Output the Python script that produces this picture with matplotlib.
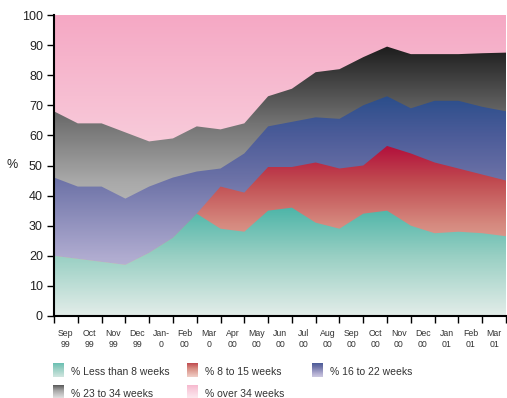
import numpy as np
import matplotlib.pyplot as plt
from matplotlib.colors import LinearSegmentedColormap

plt.rcParams['font.family'] = ['Liberation Sans', 'DejaVu Sans']

# month labels sit between the tick marks
months = ['Sep\n99', 'Oct\n99', 'Nov\n99', 'Dec\n99', 'Jan-\n0', 'Feb\n00', 'Mar\n0',
          'Apr\n00', 'May\n00', 'Jun\n00', 'Jul\n00', 'Aug\n00', 'Sep\n00', 'Oct\n00',
          'Nov\n00', 'Dec\n00', 'Jan\n01', 'Feb\n01', 'Mar\n01']

# share of waits (%) in each band, one value per tick position
lt8 = [20, 19, 18, 17, 21, 26, 34, 29, 28, 35, 36, 31, 29, 34, 35, 30, 27.5, 28, 27.5, 26.5]
w8_15 = [0, 0, 0, 0, 0, 0, 0, 14, 13, 14.5, 13.5, 20, 20, 16, 21.5, 24, 23.5, 21, 19.5, 18.5]
w16_22 = [26, 24, 25, 22, 22, 20, 14, 6, 13, 13.5, 15, 15, 16.5, 20, 16.5, 15, 20.5, 22.5, 22.5, 23]
w23_34 = [22, 21, 21, 22, 15, 13, 15, 13, 10, 10, 11, 15, 16.5, 16, 16.5, 18, 15.5, 15.5, 17.8, 19.5]

bands = np.array([lt8, w8_15, w16_22, w23_34])
cum = np.cumsum(bands, axis=0)
over34 = 100 - cum[-1]
x = np.arange(len(lt8))

names = ['% Less than 8 weeks', '% 8 to 15 weeks', '% 16 to 22 weeks',
         '% 23 to 34 weeks', '% over 34 weeks']

# vertical gradients, keyed by position on the 0-100 axis
cmaps = [
    LinearSegmentedColormap.from_list('teal', [(0, '#e3ede9'), (0.2, '#98cfc3'), (0.36, '#4db5a8'), (1, '#30a090')]),
    LinearSegmentedColormap.from_list('red', [(0, '#f6dcd6'), (0.3, '#d68b80'), (0.45, '#c04a50'), (0.56, '#b3123c'), (1, '#a00030')]),
    LinearSegmentedColormap.from_list('blue', [(0, '#d6d2e6'), (0.2, '#aeaacf'), (0.46, '#6b71a6'), (0.6, '#4c5c99'), (0.73, '#2b4e8b'), (1, '#1a3a7a')]),
    LinearSegmentedColormap.from_list('grey', [(0, '#f0f0f0'), (0.45, '#a8a8a8'), (0.64, '#737373'), (0.9, '#1c1c1c'), (1, '#0a0a0a')]),
    LinearSegmentedColormap.from_list('pink', [(0, '#fdf0f4'), (0.6, '#f8c9d9'), (1, '#f5a8c4')]),
]
swatch_top = [0.3, 0.45, 0.6, 0.72, 0.8]

W, H = 507, 398
fig = plt.figure(figsize=(W / 100, H / 100), dpi=100)
ax = fig.add_axes([54 / W, 1 - 316 / H, 452 / W, 301 / H])

grad = np.linspace(0, 1, 256).reshape(-1, 1)
tops = [cum[0], cum[1], cum[2], cum[3], cum[3] + over34]
# draw back to front: over 34 weeks first, less than 8 weeks last
for i in range(4, -1, -1):
    poly = ax.fill_between(x, 0, tops[i], facecolor='none', edgecolor='none')
    im = ax.imshow(grad, cmap=cmaps[i], origin='lower', aspect='auto',
                   extent=[x[0], x[-1], 0, 100], zorder=1 + (4 - i) * 0.1)
    im.set_clip_path(poly.get_paths()[0], transform=ax.transData)

ax.set_xlim(x[0], x[-1])
ax.set_ylim(0, 100)
ax.set_yticks(range(0, 101, 10))
ax.tick_params(axis='y', labelsize=9, labelcolor='#222222', length=5, width=1,
               direction='out', pad=3)
ax.set_xticks(x)
ax.set_xticklabels([])
ax.tick_params(axis='x', which='major', length=5, width=1, direction='out')
ax.set_xticks(x[:-1] + 0.5, minor=True)
ax.set_xticklabels(months, minor=True, fontsize=6.3, color='#333333', linespacing=1.3)
ax.tick_params(axis='x', which='minor', length=0, pad=9)
for side in ['top', 'right']:
    ax.spines[side].set_visible(False)
for side in ['left', 'bottom']:
    ax.spines[side].set_linewidth(1.5)
    ax.spines[side].set_zorder(5)

fig.text(12 / W, 1 - 165 / H, '%', fontsize=9, ha='center', va='center', color='#222222')

# legend: gradient swatches with text beside them
legend_pos = [(53, 363), (187, 363), (312, 363), (53, 385), (187, 385)]
for i, (px, py) in enumerate(legend_pos):
    sw = fig.add_axes([px / W, 1 - (py + 14) / H, 11 / W, 14 / H])
    sw.imshow(np.linspace(0.05, swatch_top[i], 64).reshape(-1, 1), cmap=cmaps[i],
              origin='lower', aspect='auto', vmin=0, vmax=1)
    sw.axis('off')
    fig.text((px + 18) / W, 1 - (py + 9) / H, names[i], fontsize=7.5,
             ha='left', va='center', color='#333333')

fig.savefig('out.png', dpi=100)
